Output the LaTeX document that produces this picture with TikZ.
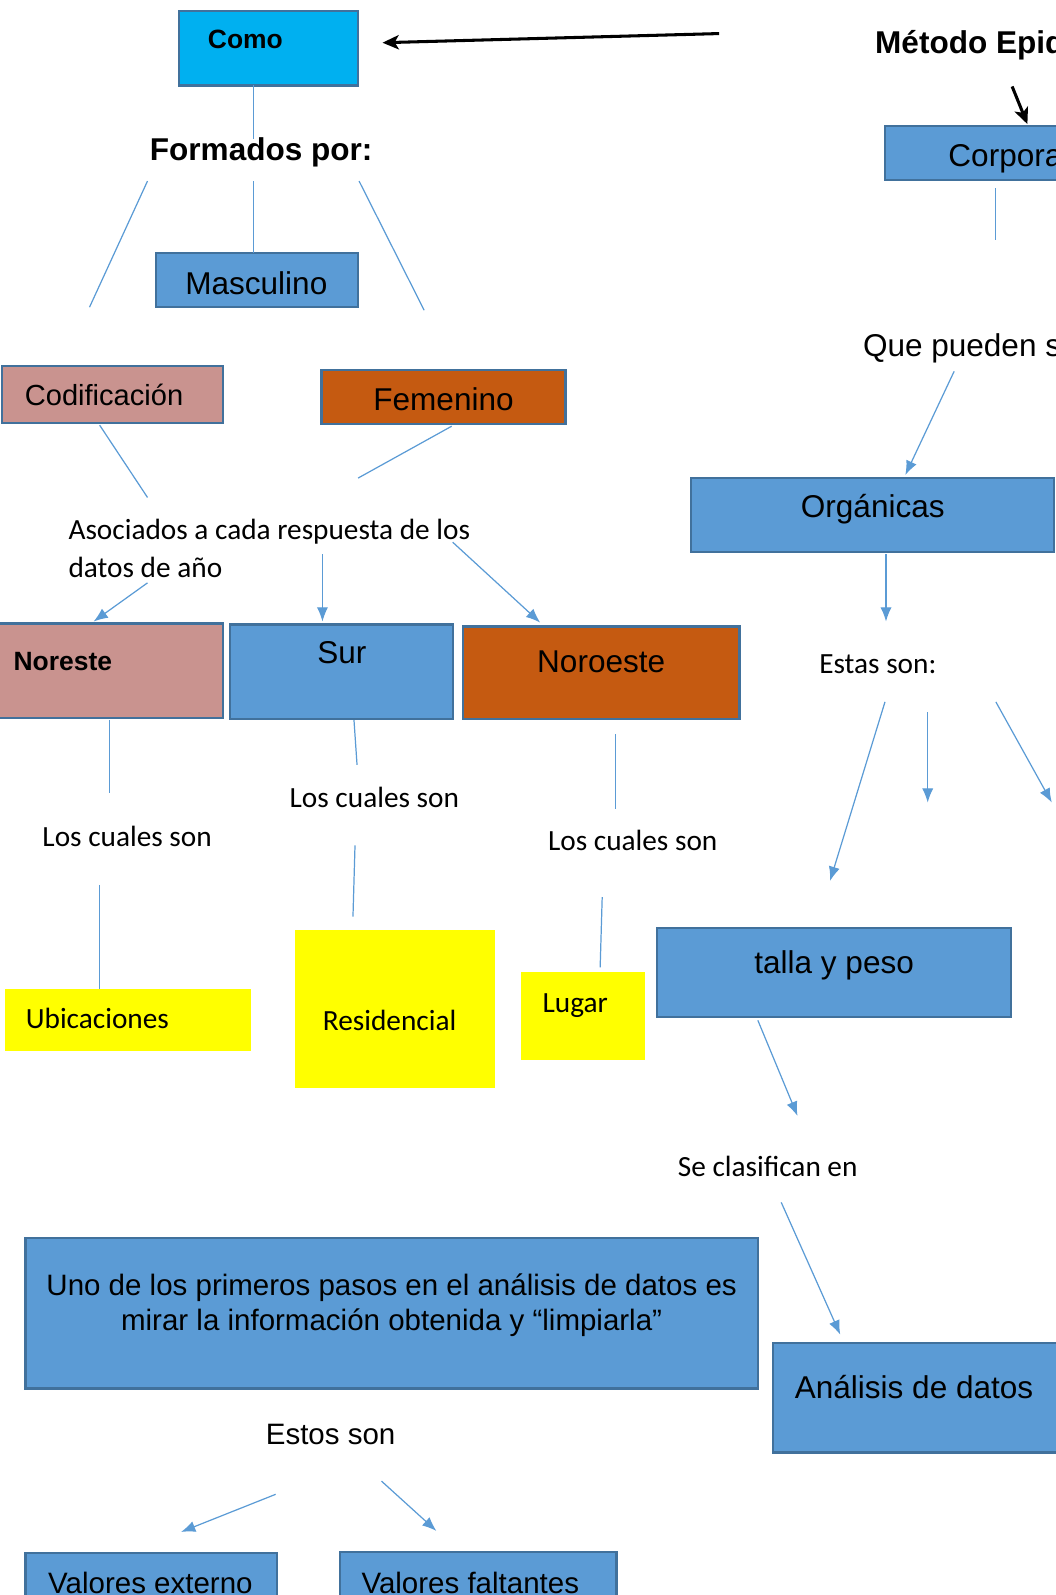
\documentclass[tikz,border=0pt]{standalone}
\usepackage{fontspec}
\setmainfont{Liberation Sans}
\newfontfamily\calf{Carlito}
\usetikzlibrary{arrows.meta,fit}
\definecolor{bfill}{HTML}{5B9BD5}
\definecolor{bline}{HTML}{41719C}
\definecolor{cyanf}{HTML}{00B0F0}
\definecolor{rosef}{HTML}{C9938F}
\definecolor{brownf}{HTML}{C55A11}
\definecolor{yel}{HTML}{FFFF00}
\begin{document}
\begin{tikzpicture}[x=0.5pt,y=-0.5pt,
 box/.style={draw=bline,line width=1.1pt,inner sep=0pt},
 ybox/.style={fill=yel,draw=none,inner sep=0pt},
 tx/.style={inner sep=0pt,text height=0.7em,text depth=0pt,yshift=-1.8pt},
 ar/.style={tx,font=\fontsize{15.5pt}{18pt}\selectfont},
 ars/.style={tx,font=\fontsize{14.5pt}{17.5pt}\selectfont},
 arb/.style={tx,font=\bfseries\fontsize{13pt}{15pt}\selectfont},
 arB/.style={tx,font=\bfseries\fontsize{15.5pt}{18pt}\selectfont},
 cal/.style={tx,font=\calf\fontsize{14.4pt}{18.5pt}\selectfont,yshift=0.2pt},
 con/.style={draw=bfill,line width=0.6pt},
 arr/.style={con,-{Latex[length=7pt,width=5.5pt]}},
 blk/.style={draw=black,line width=1.5pt,-{Stealth[length=8pt,width=7pt,inset=2pt]}}]
\useasboundingbox (0,0) rectangle (1038,1568);
\clip (0,0) rectangle (1038,1568);
% ---------- boxes ----------
\node[box,fill=cyanf,fit={(176,11)(352,84)}] (como) {};
\node[box,fill=bfill,fit={(870,124)(1060,177)}] (corp) {};
\node[box,fill=bfill,fit={(153,249)(352,302)}] (masc) {};
\node[box,fill=rosef,fit={(2,360)(219,416)}] (codif) {};
\node[box,fill=brownf,fit={(316,364)(556,417)}] (femen) {};
\node[box,fill=bfill,fit={(679,470)(1036,543)}] (organ) {};
\node[box,fill=rosef,fit={(-5,613)(219,706)}] (nores) {};
\node[box,fill=bfill,fit={(226,614)(445,707)}] (sur) {};
\node[box,fill=brownf,fit={(455,616)(727,707)}] (noroe) {};
\node[ybox,fit={(5,972)(247,1033)}] (ubic) {};
\node[ybox,fit={(290,914)(487,1070)}] (resid) {};
\node[ybox,fit={(512,956)(634,1042)}] (lugar) {};
\node[box,fill=bfill,fit={(646,912)(994,1000)}] (talla) {};
\node[box,fill=bfill,fit={(25,1217)(745,1365)}] (big) {};
\node[box,fill=bfill,fit={(760,1320)(1060,1428)}] (anal) {};
\node[box,fill=bfill,fit={(25,1527)(272,1600)}] (valext) {};
\node[box,fill=bfill,fit={(334,1526)(606,1600)}] (valfal) {};
% ---------- texts ----------
\node[arb,anchor=west] (tcomo) at (204,37) {Como};
\node[arB,anchor=west] (tform) at (147,147) {Formados por:};
\node[arB,anchor=west] (tmet) at (860,42) {Método Epidemiológico};
\node[ar,anchor=west] (tcorp) at (932,153) {Corporales};
\node[ar] (tmasc) at (252,279) {Masculino};
\node[ar,anchor=west,font=\fontsize{14.3pt}{17pt}\selectfont] (tcod) at (24,388) {Codificación};
\node[ar] (tfem) at (436,393) {Femenino};
\node[ar,anchor=west] (tque) at (848,340) {Que pueden ser:};
\node[ar] (torg) at (858,498) {Orgánicas};
\node[inner sep=0pt,font=\calf\fontsize{14.4pt}{18.5pt}\selectfont,align=left,anchor=west] (tasoc) at (67,539) {Asociados a cada respuesta de los\\datos de año};
\node[arb,anchor=west] (tnores) at (13,649) {Noreste};
\node[ar] (tsur) at (336,642) {Sur};
\node[ar] (tnoroe) at (591,651) {Noroeste};
\node[cal,anchor=west] (testas) at (805,652) {Estas son:};
\node[cal] (tlc1) at (125,822) {Los cuales son};
\node[cal] (tlc2) at (368,784) {Los cuales son};
\node[cal] (tlc3) at (622,826) {Los cuales son};
\node[cal,anchor=west] (tubic) at (25,1001) {Ubicaciones};
\node[cal] (tresid) at (383,1003) {Residencial};
\node[cal,anchor=west] (tlugar) at (533,985) {Lugar};
\node[ar] (ttalla) at (820,946) {talla y peso};
\node[cal,anchor=west] (tse) at (666,1146) {Se clasifican en};
\node[inner sep=0pt,font=\fontsize{14.5pt}{17.5pt}\selectfont,align=center] (tbig) at (385,1283) {Uno de los primeros pasos en el análisis de datos es\\mirar la información obtenida y “limpiarla”};
\node[ar,anchor=west] (tanal) at (781,1364) {Análisis de datos};
\node[ars] (testos) at (325,1409) {Estos son};
\node[ars,anchor=west] (tvext) at (47,1556) {Valores externo};
\node[ars,anchor=west] (tvfal) at (355,1556) {Valores faltantes};
% ---------- connector ends ----------
\coordinate (b1a) at (707,33); \coordinate (b1b) at (376,42);
\coordinate (b2a) at (995,85); \coordinate (b2b) at (1010,122);
\coordinate (c1a) at (249,84); \coordinate (c1b) at (249,137);
\coordinate (c2a) at (145,178); \coordinate (c2b) at (88,302);
\coordinate (c3a) at (249,178); \coordinate (c3b) at (249,249);
\coordinate (c4a) at (353,178); \coordinate (c4b) at (417,305);
\coordinate (c5a) at (98,418); \coordinate (c5b) at (145,489);
\coordinate (c6a) at (444,419); \coordinate (c6b) at (352,470);
\coordinate (a1a) at (145,573); \coordinate (a1b) at (92,611);
\coordinate (a2a) at (317,545); \coordinate (a2b) at (317,611);
\coordinate (a3a) at (445,533); \coordinate (a3b) at (531,612);
\coordinate (c7a) at (108,708); \coordinate (c7b) at (108,780);
\coordinate (c8a) at (348,708); \coordinate (c8b) at (351,752);
\coordinate (c9a) at (605,722); \coordinate (c9b) at (605,795);
\coordinate (c10a) at (98,870); \coordinate (c10b) at (98,972);
\coordinate (c11a) at (349,831); \coordinate (c11b) at (347,901);
\coordinate (c12a) at (592,882); \coordinate (c12b) at (590,951);
\coordinate (c13a) at (979,185); \coordinate (c13b) at (979,236);
\coordinate (a4a) at (938,365); \coordinate (a4b) at (890,467);
\coordinate (a5a) at (871,545); \coordinate (a5b) at (871,611);
\coordinate (a6a) at (870,690); \coordinate (a6b) at (816,866);
\coordinate (a7a) at (912,700); \coordinate (a7b) at (912,789);
\coordinate (a8a) at (979,690); \coordinate (a8b) at (1034,789);
\coordinate (a9a) at (745,1003); \coordinate (a9b) at (784,1097);
\coordinate (a10a) at (768,1182); \coordinate (a10b) at (826,1312);
\coordinate (a11a) at (271,1469); \coordinate (a11b) at (178,1506);
\coordinate (a12a) at (375,1456); \coordinate (a12b) at (429,1505);
% ---------- connectors ----------
\draw[blk] (b1a) -- (b1b);
\draw[blk] (b2a) -- (b2b);
\foreach \n in {c1,c2,c3,c4,c5,c6,c7,c8,c9,c10,c11,c12,c13}
  \draw[con] (\n a) -- (\n b);
\foreach \n in {a1,a2,a3,a4,a5,a6,a7,a8,a9,a10,a11,a12}
  \draw[arr] (\n a) -- (\n b);
\end{tikzpicture}
\end{document}
